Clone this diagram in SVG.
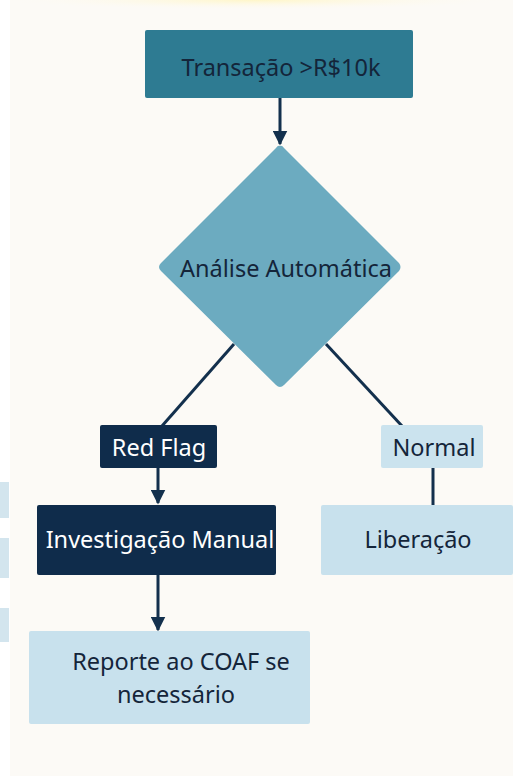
<svg xmlns="http://www.w3.org/2000/svg" width="513" height="776" viewBox="0 0 513 776">
  <defs>
    <style>
      .t { font-family: "Noto Sans", "Open Sans", sans-serif; font-size: 23.5px; text-anchor: middle; }
      .dk { fill: #14253a; }
      .wh { fill: #ffffff; }
      .conn { stroke: #13304d; stroke-width: 3; fill: none; }
    </style>
    <marker id="ah" viewBox="0 0 10 10" refX="9" refY="5" markerWidth="5" markerHeight="5" markerUnits="strokeWidth" orient="auto">
      <path d="M0,0 L10,5 L0,10 z" fill="#13304d"/>
    </marker>
    <radialGradient id="glow" cx="0.5" cy="0" r="0.5">
      <stop offset="0" stop-color="#fff6c8"/>
      <stop offset="1" stop-color="#fdfbf6" stop-opacity="0"/>
    </radialGradient>
  </defs>
  <rect x="0" y="0" width="513" height="776" fill="#fcfaf6"/>
  <rect x="0" y="0" width="513" height="20" fill="url(#glow)"/>
  <rect x="0" y="0" width="10" height="776" fill="#ffffff"/>
  <rect x="0" y="482" width="9" height="36" fill="#d3e5ee"/>
  <rect x="0" y="538" width="9" height="40" fill="#d3e5ee"/>
  <rect x="0" y="608" width="9" height="34" fill="#d3e5ee"/>

  <g id="connectors">
    <line class="conn" x1="280" y1="98" x2="280" y2="144" marker-end="url(#ah)"/>
    <line class="conn" x1="234" y1="344" x2="162" y2="426"/>
    <line class="conn" x1="326" y1="344" x2="402" y2="426"/>
    <line class="conn" x1="158" y1="468" x2="158" y2="503" marker-end="url(#ah)"/>
    <line class="conn" x1="433" y1="468" x2="433" y2="505"/>
    <line class="conn" x1="158" y1="575" x2="158" y2="630" marker-end="url(#ah)"/>
  </g>

  <g id="n-transacao">
    <rect x="145" y="30" width="268" height="68" rx="2" fill="#2e7b92"/>
    <text class="t dk" x="281" y="76">Transação &gt;R$10k</text>
  </g>
  <g id="n-analise">
    <path d="M280,146 Q282,145 284,148 L399,263 Q402,267 399,271 L284,385 Q280,389 276,385 L161,271 Q157,267 161,263 L276,148 Q278,145 280,146 z" fill="#6cabc0"/>
    <text class="t dk" x="286" y="277">Análise Automática</text>
  </g>
  <g id="n-redflag">
    <rect x="100" y="425" width="117" height="43" rx="2" fill="#0f2c4b"/>
    <text class="t wh" x="159" y="456">Red Flag</text>
  </g>
  <g id="n-normal">
    <rect x="381" y="425" width="102" height="43" rx="2" fill="#cbe3ee"/>
    <text class="t dk" x="434" y="456">Normal</text>
  </g>
  <g id="n-investigacao">
    <rect x="37" y="505" width="239" height="70" rx="2" fill="#0f2c4b"/>
    <text class="t wh" x="160" y="548">Investigação Manual</text>
  </g>
  <g id="n-liberacao">
    <rect x="321" y="505" width="192" height="70" rx="2" fill="#c8e1ed"/>
    <text class="t dk" x="418" y="548">Liberação</text>
  </g>
  <g id="n-reporte">
    <rect x="29" y="631" width="281" height="93" rx="2" fill="#c8e1ed"/>
    <text class="t dk" x="181" y="670">Reporte ao COAF se</text>
    <text class="t dk" x="176" y="703">necessário</text>
  </g>
</svg>
